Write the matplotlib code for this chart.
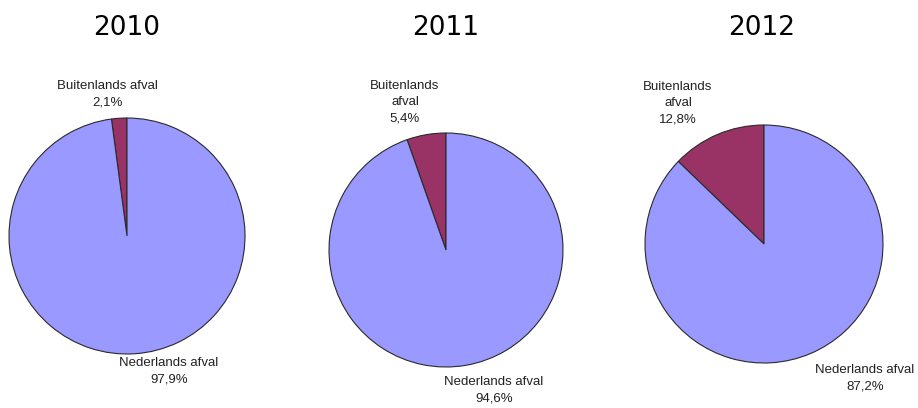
import matplotlib
matplotlib.use("Agg")
import matplotlib.pyplot as plt

# ── DATA ─────────────────────────────────────────────
years       = ["2010", "2011", "2012"]
buitenlands = [2.1, 5.4, 12.8]
nederlands  = [97.9, 94.6, 87.2]
lbl_buiten  = ["Buitenlands afval", "Buitenlands\nafval", "Buitenlands\nafval"]
lbl_neder   = ["Nederlands afval", "Nederlands afval", "Nederlands afval"]

# ── LAYOUT (pixels) ──────────────────────────────────
W, H = 918, 408
CENTERS = [(127, 236, 118), (446, 250, 117), (764, 244, 119)]
TITLE_X = [127, 446, 762]
BUIT_POS = [(107, 94), (405, 102), (678, 103)]
NED_POS  = [(169, 371), (494, 390), (865, 378)]

C_NED  = "#9999FF"
C_BUIT = "#993366"

fig = plt.figure(figsize=(W / 100, H / 100), dpi=100)
fig.patch.set_facecolor("white")

def to_data(px, py, cx, cy, r):
    return (px - cx) / r, (cy - py) / r

for i, (cx, cy, r) in enumerate(CENTERS):
    ax = fig.add_axes([(cx - r) / W, 1 - (cy + r) / H, 2 * r / W, 2 * r / H])
    ax.pie([buitenlands[i], nederlands[i]], colors=[C_BUIT, C_NED],
           startangle=90, counterclock=True, radius=1,
           wedgeprops=dict(edgecolor="#2a2a2a", linewidth=0.8))
    ax.set_xlim(-1, 1)
    ax.set_ylim(-1, 1)
    ax.set_aspect("auto")
    ax.axis("off")

    bx, by = to_data(*BUIT_POS[i], cx, cy, r)
    ax.text(bx, by, f"{lbl_buiten[i]}\n{buitenlands[i]:.1f}%".replace(".", ","),
            ha="center", va="center", multialignment="center",
            fontsize=9.5, family="Liberation Sans", color="#222222",
            linespacing=1.45, clip_on=False)
    nx, ny = to_data(*NED_POS[i], cx, cy, r)
    ax.text(nx, ny, f"{lbl_neder[i]}\n{nederlands[i]:.1f}%".replace(".", ","),
            ha="center", va="center", multialignment="center",
            fontsize=9.5, family="Liberation Sans", color="#222222",
            linespacing=1.45, clip_on=False)

    fig.text(TITLE_X[i] / W, 1 - 28 / H, years[i], ha="center", va="center",
             fontsize=19, family="DejaVu Sans", color="black")

fig.savefig("out.png", dpi=100, facecolor="white")
